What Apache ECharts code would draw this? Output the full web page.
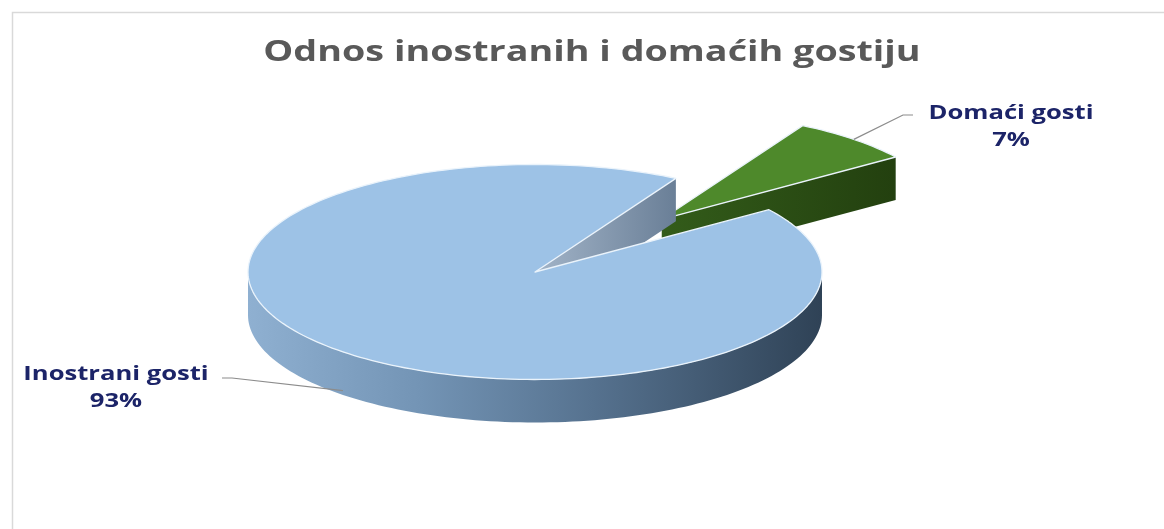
<!DOCTYPE html>
<html>
<head>
<meta charset="utf-8">
<script src="https://cdn.jsdelivr.net/npm/echarts@6/dist/echarts.min.js"></script>
<style>
  html, body { margin: 0; padding: 0; background: #ffffff; }
  #chart { width: 1164px; height: 529px; }
</style>
</head>
<body>
<div id="chart"></div>
<script>
// ---- data ----
const categories = ['Inostrani gosti', 'Domaći gosti'];
const shares = [93, 7];
const percentLabels = ['93%', '7%'];
const titleText = 'Odnos inostranih i domaćih gostiju';

// ---- layout / style (not data) ----
const PIE = { cx: 535, cy: 272, rx: 287, ry: 107.5, depth: 43, startAngle: 60.6 };
const EXPLODE = [0, 0.66];
const LABEL_POS = [
  { x: 116, y: 388, leaderX: 222, leaderY: 378, dir: 1 },
  { x: 1011, y: 127, leaderX: 913, leaderY: 115, dir: -1 }
];
const TOP_COLORS = ['#9dc2e6', '#4e892b'];
const WALL_COLORS = [['#a2b4c8', '#6a7f97'], ['#335c1a', '#23400f']];
const SIDE_COLORS = [
  [[0, '#8fb0d1'], [0.3, '#7394b5'], [0.6, '#56728f'], [1, '#2f4256']],
  [[0, '#3a661f'], [1, '#1f3a0e']]
];

const total = shares.reduce((a, b) => a + b, 0);
const rad = d => d * Math.PI / 180;

function renderItem(params, api) {
  const i = params.dataIndex;
  let a0 = PIE.startAngle;
  for (let k = 0; k < i; k++) a0 += shares[k] / total * 360;
  const sweep = api.value(0) / total * 360;
  const a1 = a0 + sweep;
  const mid = (a0 + a1) / 2;
  const e = EXPLODE[i];
  const ox = PIE.cx + e * PIE.rx * Math.cos(rad(mid));
  const oy = PIE.cy - e * PIE.ry * Math.sin(rad(mid));
  const pt = (t, dz) => [ox + PIE.rx * Math.cos(rad(t)), oy - PIE.ry * Math.sin(rad(t)) + (dz || 0)];
  const arc = (t0, t1, dz) => {
    const n = Math.max(2, Math.ceil(Math.abs(t1 - t0) / 1.5));
    const out = [];
    for (let j = 0; j <= n; j++) out.push(pt(t0 + (t1 - t0) * j / n, dz));
    return out;
  };
  const base = Math.round((1 - Math.sin(rad(mid))) * 10) * 10;
  const children = [];

  // outer side (front half only)
  for (let k = -1; k <= 2; k++) {
    const s = Math.max(a0, 180 + 360 * k), t = Math.min(a1, 360 + 360 * k);
    if (t > s) {
      const pts = arc(s, t, 0).concat(arc(t, s, PIE.depth));
      children.push({
        type: 'polygon', z2: base + 1,
        shape: { points: pts },
        style: {
          fill: new echarts.graphic.LinearGradient(0, 0, 1, 0,
            SIDE_COLORS[i].map(s => ({ offset: s[0], color: s[1] }))),
          stroke: null
        }
      });
    }
  }
  // radial walls
  const wall = t => {
    const pts = [[ox, oy], pt(t, 0), pt(t, PIE.depth), [ox, oy + PIE.depth]];
    return {
      type: 'polygon', z2: base + 2,
      shape: { points: pts },
      style: {
        fill: new echarts.graphic.LinearGradient(0, 0, 1, 0, [
          { offset: 0, color: WALL_COLORS[i][0] }, { offset: 1, color: WALL_COLORS[i][1] }
        ])
      }
    };
  };
  if (Math.sin(rad(a0 - 90)) < 0) children.push(wall(a0));
  if (Math.sin(rad(a1 + 90)) < 0) children.push(wall(a1));

  // top face
  children.push({
    type: 'polygon', z2: base + 3,
    shape: { points: [[ox, oy]].concat(arc(a0, a1, 0)) },
    style: { fill: TOP_COLORS[i], stroke: '#eaf3fb', lineWidth: 1.3, lineJoin: 'round' }
  });

  // leader line + label
  const front = Math.sin(rad(mid)) < 0;
  const anchor = pt(mid, front ? PIE.depth * 0.9 : 0);
  const lp = LABEL_POS[i];
  children.push({
    type: 'polyline', z2: 900,
    shape: { points: [anchor, [lp.leaderX + lp.dir * 10, lp.leaderY], [lp.leaderX, lp.leaderY]] },
    style: { stroke: '#8c8c8c', lineWidth: 1.2, fill: null }
  });
  children.push({
    type: 'text', z2: 1000,
    x: lp.x, y: lp.y, scaleX: 1.28,
    style: {
      text: categories[i] + '\n' + percentLabels[i],
      align: 'center', verticalAlign: 'middle',
      fontFamily: 'Open Sans', fontWeight: 'bold', fontSize: 20,
      lineHeight: 27, fill: '#1c2468'
    }
  });
  return { type: 'group', children };
}

const chart = echarts.init(document.getElementById('chart'), null, { renderer: 'canvas' });
chart.setOption({
  animation: false,
  backgroundColor: '#ffffff',
  graphic: [{
    type: 'rect', silent: true,
    shape: { x: 12.5, y: 12.5, width: 1200, height: 600 },
    style: { fill: null, stroke: '#d9d9d9', lineWidth: 1.5 }
  }, {
    type: 'text', silent: true,
    x: 592, y: 53, scaleX: 1.3,
    style: {
      text: titleText, align: 'center', verticalAlign: 'middle',
      fontFamily: 'Open Sans', fontWeight: 'bold', fontSize: 29, fill: '#595959'
    }
  }],
  series: [{
    type: 'custom',
    coordinateSystem: 'none',
    renderItem: renderItem,
    data: shares.map((v, i) => ({ name: categories[i], value: [v] }))
  }]
});
</script>
</body>
</html>
